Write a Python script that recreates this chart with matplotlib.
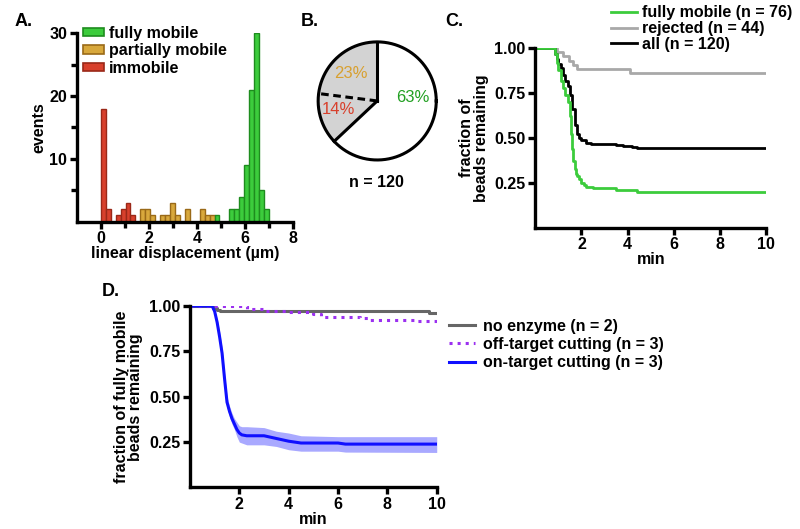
import numpy as np
import matplotlib
matplotlib.use('Agg')
import matplotlib.pyplot as plt
from matplotlib.patches import Patch

plt.rcParams['font.family'] = ['Liberation Sans', 'DejaVu Sans']
plt.rcParams['font.weight'] = 'bold'
plt.rcParams['axes.labelweight'] = 'bold'
plt.rcParams['font.size'] = 11.5

# ---- panel A: histogram of displacement ----
bin_width = 0.206
hist_counts = [18, 2, 0, 1, 2, 3, 1, 0, 2, 2, 1, 0, 1, 1, 3, 1, 0, 2, 0, 0,
               2, 1, 1, 1, 0, 0, 2, 2, 4, 9, 21, 30, 5, 2]
hist_class = ['imm'] * 7 + ['part'] * 16 + ['full'] * 11
class_names = {'full': 'fully mobile', 'part': 'partially mobile', 'imm': 'immobile'}

# ---- panel B: pie ----
pie_pct = [63, 14, 23]
pie_labels = ['63%', '14%', '23%']

# ---- panel C: survival curves ----
c_t_mobile = [0, 0.85, 0.95, 1.0, 1.1, 1.2, 1.3, 1.4, 1.5, 1.55, 1.6, 1.65, 1.7,
              1.75, 1.8, 1.9, 2.0, 2.1, 2.2, 2.5, 3.5, 4.4, 10]
c_f_mobile = [1, 0.97, 0.92, 0.88, 0.82, 0.78, 0.74, 0.70, 0.62, 0.52, 0.44, 0.37,
              0.33, 0.30, 0.29, 0.27, 0.25, 0.24, 0.225, 0.22, 0.21, 0.20, 0.20]
c_t_rej = [0, 0.95, 1.2, 1.45, 1.65, 1.8, 4.1, 10]
c_f_rej = [1, 0.977, 0.955, 0.932, 0.909, 0.886, 0.864, 0.864]
c_t_all = [0, 0.85, 0.95, 1.0, 1.1, 1.2, 1.3, 1.4, 1.5, 1.6, 1.7, 1.8, 1.9, 2.0,
           2.2, 2.4, 3.5, 3.8, 4.2, 4.4, 10]
c_f_all = [1, 0.97, 0.94, 0.91, 0.89, 0.85, 0.82, 0.79, 0.74, 0.66, 0.57, 0.52,
           0.50, 0.49, 0.47, 0.467, 0.46, 0.455, 0.45, 0.444, 0.444]

# ---- panel D ----
d_t_none = [0, 0.95, 1.1, 1.2, 9.7, 10]
d_f_none = [1, 0.99, 0.98, 0.974, 0.962, 0.962]
d_t_off = [0, 2.0, 2.3, 3.0, 4.0, 5.0, 5.3, 6.9, 7.2, 9.2, 10]
d_f_off = [1, 1, 0.985, 0.975, 0.965, 0.955, 0.94, 0.935, 0.925, 0.918, 0.915]
d_t_on = [0, 0.9, 1.0, 1.1, 1.2, 1.3, 1.4, 1.5, 1.6, 1.7, 1.8, 1.9, 2.0, 2.1,
          2.3, 3.0, 3.5, 4.0, 4.5, 6.0, 6.3, 10]
d_f_on = [1, 1, 0.97, 0.91, 0.83, 0.74, 0.60, 0.47, 0.42, 0.38, 0.35, 0.32, 0.30,
          0.29, 0.285, 0.285, 0.27, 0.255, 0.245, 0.245, 0.239, 0.239]
d_hi_on = [1, 1, 0.98, 0.93, 0.86, 0.77, 0.63, 0.50, 0.45, 0.41, 0.38, 0.36, 0.34,
           0.335, 0.335, 0.33, 0.31, 0.30, 0.285, 0.28, 0.28, 0.28]
d_lo_on = [1, 1, 0.96, 0.89, 0.80, 0.71, 0.57, 0.44, 0.39, 0.35, 0.32, 0.28, 0.25,
           0.245, 0.235, 0.235, 0.226, 0.208, 0.20, 0.20, 0.195, 0.193]

face = {'full': '#3ccc3c', 'part': '#d8a83c', 'imm': '#d8402c'}
edge = {'full': '#1e8c1e', 'part': '#9a6a18', 'imm': '#9a2818'}

LW = 2.4


def style_axes(ax):
    for s in ['top', 'right']:
        ax.spines[s].set_visible(False)
    for s in ['left', 'bottom']:
        ax.spines[s].set_linewidth(LW)
    ax.tick_params(which='major', width=LW, length=5, pad=2)
    ax.tick_params(which='minor', width=LW, length=4)


fig = plt.figure(figsize=(8, 5.29), dpi=100)

# A
axA = fig.add_axes([0.096, 0.581, 0.270, 0.356])
edges = np.arange(len(hist_counts)) * bin_width
for x0, h, c in zip(edges, hist_counts, hist_class):
    if h > 0:
        axA.bar(x0, h, width=bin_width, align='edge', color=face[c],
                edgecolor=edge[c], linewidth=1.0)
axA.set_xlim(-1, 8)
axA.set_ylim(0, 30)
axA.set_xticks([0, 2, 4, 6, 8])
axA.set_xticks([1, 3, 5, 7], minor=True)
axA.set_yticks([10, 20, 30])
axA.set_yticks([5, 15, 25], minor=True)
style_axes(axA)
axA.set_xlabel('linear displacement (µm)', labelpad=0)
axA.set_ylabel('events', labelpad=2)
handles = [Patch(facecolor=face[k], edgecolor=edge[k], linewidth=1.2, label=class_names[k])
           for k in ['full', 'part', 'imm']]
axA.legend(handles=handles, loc='upper left', bbox_to_anchor=(0.03, 1.04), frameon=False,
           handlelength=1.3, handleheight=0.45, handletextpad=0.3, labelspacing=0.15,
           borderpad=0, borderaxespad=0)
fig.text(0.018, 0.975, 'A.', fontsize=13, fontweight='bold', va='top')

# B
axB = fig.add_axes([0.394, 0.692, 0.155, 0.2344])
axB.pie(pie_pct, colors=['white', '#d3d3d3', '#d3d3d3'], startangle=90,
        counterclock=False, radius=1, wedgeprops=dict(linewidth=0))
theta = np.linspace(0, 2 * np.pi, 400)
axB.plot(np.cos(theta), np.sin(theta), color='black', lw=2.2)
cum = np.cumsum([0] + pie_pct[:-1])
styles = ['-', '-', '--']
for c, ls in zip(cum, styles):
    a = np.deg2rad(90 - 360 * c / 100)
    if ls == '--':
        axB.plot([0, np.cos(a)], [0, np.sin(a)], color='black', lw=2.2, dashes=(2.5, 1.5))
    else:
        axB.plot([0, np.cos(a)], [0, np.sin(a)], color='black', lw=2.2)
axB.text(0.61, 0.05, pie_labels[0], color='#22a022', ha='center', va='center',
         fontweight='normal', fontsize=12)
axB.text(-0.65, -0.15, pie_labels[1], color='#d8402c', ha='center', va='center',
         fontweight='normal', fontsize=12)
axB.text(-0.44, 0.47, pie_labels[2], color='#d8a030', ha='center', va='center',
         fontweight='normal', fontsize=12)
axB.set_xlim(-1.05, 1.05)
axB.set_ylim(-1.05, 1.05)
axB.set_aspect('equal')
axB.axis('off')
fig.text(0.471, 0.655, 'n = 120', ha='center', va='center', fontweight='bold')
fig.text(0.376, 0.975, 'B.', fontsize=13, fontweight='bold', va='top')

# C
axC = fig.add_axes([0.669, 0.5696, 0.289, 0.339])
axC.step(c_t_rej, c_f_rej, where='post', color='#a8a8a8', lw=2, label='rejected (n = 44)')
axC.step(c_t_all, c_f_all, where='post', color='black', lw=2, label='all (n = 120)')
axC.step(c_t_mobile, c_f_mobile, where='post', color='#3ccc3c', lw=2, label='fully mobile (n = 76)')
axC.set_xlim(0, 10)
axC.set_ylim(0, 1.0)
axC.set_xticks([2, 4, 6, 8, 10])
axC.set_yticks([0.25, 0.5, 0.75, 1.0])
axC.set_yticklabels(['0.25', '0.50', '0.75', '1.00'])
style_axes(axC)
axC.set_xlabel('min', labelpad=0)
axC.set_ylabel('fraction of\nbeads remaining', labelpad=4, linespacing=0.95)
hC, lC = axC.get_legend_handles_labels()
order = [2, 0, 1]
axC.legend([hC[i] for i in order], [lC[i] for i in order], loc='lower left',
           bbox_to_anchor=(0.33, 0.98), frameon=False, handlelength=1.6,
           handletextpad=0.3, labelspacing=0.05, borderpad=0, borderaxespad=0)
fig.text(0.557, 0.975, 'C.', fontsize=13, fontweight='bold', va='top')

# D
axD = fig.add_axes([0.2375, 0.0785, 0.3084, 0.343])
axD.fill_between(d_t_on, d_lo_on, d_hi_on, color='#7070ff', alpha=0.6, lw=0)
axD.step(d_t_none, d_f_none, where='post', color='#666666', lw=2.2, label='no enzyme (n = 2)')
axD.step(d_t_off, d_f_off, where='post', color='#9b30f0', lw=2.2, ls=':',
         label='off-target cutting (n = 3)')
axD.plot(d_t_on, d_f_on, color='#1010ff', lw=2.2, label='on-target cutting (n = 3)')
axD.set_xlim(0, 10)
axD.set_ylim(0, 1.0)
axD.set_xticks([2, 4, 6, 8, 10])
axD.set_yticks([0.25, 0.5, 0.75, 1.0])
axD.set_yticklabels(['0.25', '0.50', '0.75', '1.00'])
style_axes(axD)
axD.set_xlabel('min', labelpad=0)
axD.set_ylabel('fraction of fully mobile\nbeads remaining', labelpad=4, linespacing=0.95)
axD.legend(loc='upper left', bbox_to_anchor=(1.05, 0.93), frameon=False, handlelength=1.6,
           handletextpad=0.5, labelspacing=0.2, borderpad=0, borderaxespad=0)
fig.text(0.127, 0.465, 'D.', fontsize=13, fontweight='bold', va='top')

fig.savefig('out.png', dpi=100)
